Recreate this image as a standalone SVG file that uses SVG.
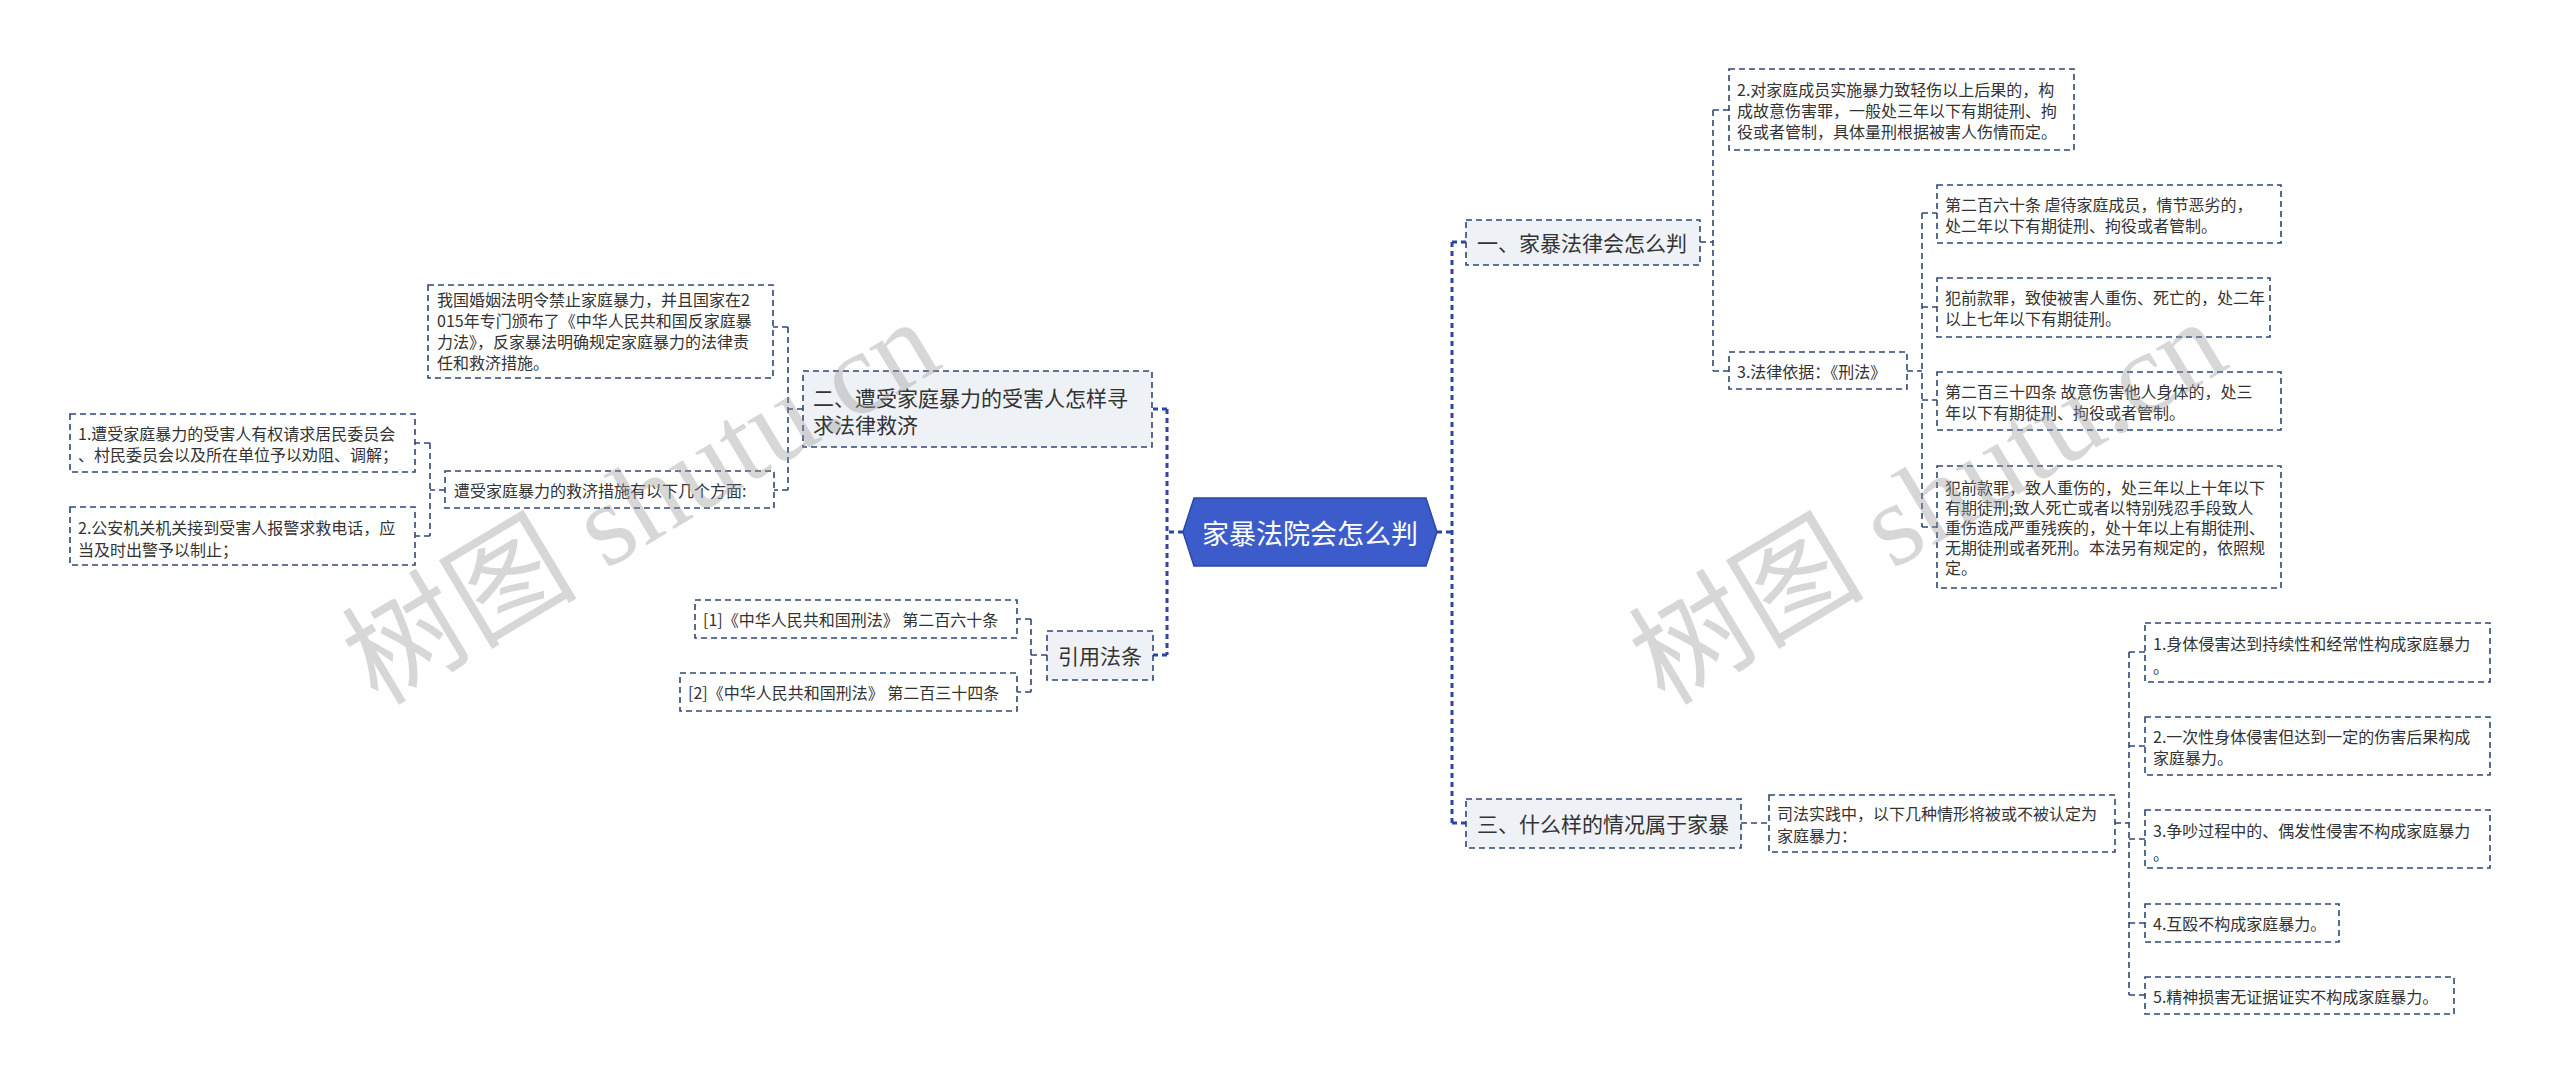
<svg xmlns="http://www.w3.org/2000/svg" width="2560" height="1085" viewBox="0 0 2560 1085">
<style>
text{font-family:"Noto Sans CJK SC","Microsoft YaHei",sans-serif;fill:#333;dominant-baseline:central}
.l1{fill:#eef1f6;stroke:#2f4776;stroke-width:1.6;stroke-dasharray:6 4}
.lf{fill:#fff;stroke:#2f4776;stroke-width:1.6;stroke-dasharray:6 4}
.t1{font-size:21px}
.t2{font-size:16px}
.trunk{fill:none;stroke:#2b47a0;stroke-width:3;stroke-dasharray:5 4}
.cn{fill:none;stroke:#2f4776;stroke-width:1.6;stroke-dasharray:6 4}
.wm{font-family:"Liberation Serif","Noto Sans CJK SC",serif;font-size:118px;fill:#999;opacity:0.38;dominant-baseline:auto}
</style>
<rect width="2560" height="1085" fill="#fff"/>
<g id="connectors">
<path class="trunk" d="M1183 532H1167M1167 409V655M1167 409H1152M1167 655H1153"/>
<path class="trunk" d="M1437 532H1452M1452 242V823M1452 242H1466M1452 823H1466"/>
<path class="cn" d="M803 409H788M788 327V490M788 327H773M788 490H774"/>
<path class="cn" d="M445 490H430M430 443V536M430 443H415M430 536H415"/>
<path class="cn" d="M1047 655H1031M1031 619V692M1031 619H1017M1031 692H1017"/>
<path class="cn" d="M1700 242H1713M1713 110V371M1713 110H1729M1713 371H1729"/>
<path class="cn" d="M1907 371H1922M1922 213V527M1922 213H1937M1922 307H1937M1922 400H1937M1922 527H1937"/>
<path class="cn" d="M1741 823H1769"/>
<path class="cn" d="M2115 823H2129M2129 652V995M2129 652H2145M2129 746H2145M2129 839H2145M2129 923H2145M2129 995H2145"/>
</g>
<g id="root">
<polygon points="1183,532 1194,498 1426,498 1437,532 1426,566 1194,566" fill="#3c5ccc" stroke="#2c47a6" stroke-width="1.5"/>
<text x="1310" y="532" text-anchor="middle" style="font-size:27px;fill:#fff">家暴法院会怎么判</text>
</g>
<g id="n-yi">
<rect class="l1" x="1466" y="220" width="234" height="45"/>
<text class="t1" x="1477" y="242">一、家暴法律会怎么判</text>
</g>
<g id="n-yi-2">
<rect class="lf" x="1729" y="69" width="345" height="81"/>
<text class="t2"><tspan x="1737" y="89">2.对家庭成员实施暴力致轻伤以上后果的，构</tspan><tspan x="1737" y="110">成故意伤害罪，一般处三年以下有期徒刑、拘</tspan><tspan x="1737" y="131">役或者管制，具体量刑根据被害人伤情而定。</tspan></text>
</g>
<g id="n-yi-3">
<rect class="lf" x="1729" y="352" width="178" height="37"/>
<text class="t2" x="1737" y="371">3.法律依据：《刑法》</text>
</g>
<g id="n-law-a">
<rect class="lf" x="1937" y="185" width="344" height="58"/>
<text class="t2"><tspan x="1945" y="204">第二百六十条 虐待家庭成员，情节恶劣的，</tspan><tspan x="1945" y="225">处二年以下有期徒刑、拘役或者管制。</tspan></text>
</g>
<g id="n-law-b">
<rect class="lf" x="1937" y="278" width="333" height="59"/>
<text class="t2"><tspan x="1945" y="297">犯前款罪，致使被害人重伤、死亡的，处二年</tspan><tspan x="1945" y="318">以上七年以下有期徒刑。</tspan></text>
</g>
<g id="n-law-c">
<rect class="lf" x="1937" y="372" width="344" height="58"/>
<text class="t2"><tspan x="1945" y="391">第二百三十四条 故意伤害他人身体的，处三</tspan><tspan x="1945" y="412">年以下有期徒刑、拘役或者管制。</tspan></text>
</g>
<g id="n-law-d">
<rect class="lf" x="1937" y="466" width="344" height="122"/>
<text class="t2"><tspan x="1945" y="487">犯前款罪，致人重伤的，处三年以上十年以下</tspan><tspan x="1945" y="507">有期徒刑;致人死亡或者以特别残忍手段致人</tspan><tspan x="1945" y="527">重伤造成严重残疾的，处十年以上有期徒刑、</tspan><tspan x="1945" y="547">无期徒刑或者死刑。本法另有规定的，依照规</tspan><tspan x="1945" y="567">定。</tspan></text>
</g>
<g id="n-san">
<rect class="l1" x="1466" y="799" width="275" height="49"/>
<text class="t1" x="1477" y="823">三、什么样的情况属于家暴</text>
</g>
<g id="n-san-a">
<rect class="lf" x="1769" y="795" width="346" height="57"/>
<text class="t2"><tspan x="1777" y="813">司法实践中，以下几种情形将被或不被认定为</tspan><tspan x="1777" y="835">家庭暴力：</tspan></text>
</g>
<g id="n-s1">
<rect class="lf" x="2145" y="623" width="345" height="59"/>
<text class="t2"><tspan x="2153" y="643">1.身体侵害达到持续性和经常性构成家庭暴力</tspan><tspan x="2153" y="666">。</tspan></text>
</g>
<g id="n-s2">
<rect class="lf" x="2145" y="717" width="345" height="58"/>
<text class="t2"><tspan x="2153" y="736">2.一次性身体侵害但达到一定的伤害后果构成</tspan><tspan x="2153" y="757">家庭暴力。</tspan></text>
</g>
<g id="n-s3">
<rect class="lf" x="2145" y="810" width="345" height="58"/>
<text class="t2"><tspan x="2153" y="830">3.争吵过程中的、偶发性侵害不构成家庭暴力</tspan><tspan x="2153" y="853">。</tspan></text>
</g>
<g id="n-s4">
<rect class="lf" x="2145" y="904" width="194" height="38"/>
<text class="t2" x="2153" y="923">4.互殴不构成家庭暴力。</text>
</g>
<g id="n-s5">
<rect class="lf" x="2145" y="977" width="309" height="37"/>
<text class="t2" x="2153" y="996">5.精神损害无证据证实不构成家庭暴力。</text>
</g>
<g id="n-er">
<rect class="l1" x="803" y="371" width="349" height="76"/>
<text class="t1"><tspan x="813" y="397">二、遭受家庭暴力的受害人怎样寻</tspan><tspan x="813" y="424">求法律救济</tspan></text>
</g>
<g id="n-er-a">
<rect class="lf" x="428" y="285" width="345" height="93"/>
<text class="t2"><tspan x="437" y="299">我国婚姻法明令禁止家庭暴力，并且国家在2</tspan><tspan x="437" y="320">015年专门颁布了《中华人民共和国反家庭暴</tspan><tspan x="437" y="341">力法》，反家暴法明确规定家庭暴力的法律责</tspan><tspan x="437" y="362">任和救济措施。</tspan></text>
</g>
<g id="n-er-b">
<rect class="lf" x="445" y="471" width="329" height="37"/>
<text class="t2" x="454" y="490">遭受家庭暴力的救济措施有以下几个方面:</text>
</g>
<g id="n-er-b1">
<rect class="lf" x="70" y="414" width="345" height="58"/>
<text class="t2"><tspan x="78" y="433">1.遭受家庭暴力的受害人有权请求居民委员会</tspan><tspan x="78" y="454">、村民委员会以及所在单位予以劝阻、调解；</tspan></text>
</g>
<g id="n-er-b2">
<rect class="lf" x="70" y="507" width="345" height="58"/>
<text class="t2"><tspan x="78" y="527">2.公安机关机关接到受害人报警求救电话，应</tspan><tspan x="78" y="549">当及时出警予以制止；</tspan></text>
</g>
<g id="n-ref">
<rect class="l1" x="1047" y="631" width="106" height="49"/>
<text class="t1" x="1100" y="655" text-anchor="middle">引用法条</text>
</g>
<g id="n-ref-1">
<rect class="lf" x="695" y="600" width="322" height="38"/>
<text class="t2" x="703" y="619">[1]《中华人民共和国刑法》 第二百六十条</text>
</g>
<g id="n-ref-2">
<rect class="lf" x="680" y="673" width="337" height="38"/>
<text class="t2" x="688" y="692">[2]《中华人民共和国刑法》 第二百三十四条</text>
</g>
<g id="watermark">
<text class="wm" x="648" y="540" text-anchor="middle" transform="rotate(-31 648 514)">树图 shutu.cn</text>
<text class="wm" x="1935" y="540" text-anchor="middle" transform="rotate(-31 1935 514)">树图 shutu.cn</text>
</g>
</svg>
